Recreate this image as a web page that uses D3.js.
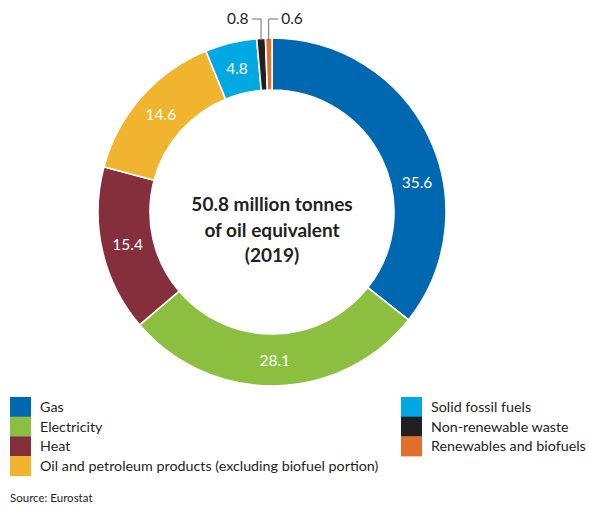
<!DOCTYPE html>
<html>
<head>
<meta charset="utf-8">
<script src="https://cdn.jsdelivr.net/npm/d3@7"></script>
<style>
  html, body { margin: 0; padding: 0; background: #fff; }
  svg { display: block; font-family: Lato, "Open Sans", sans-serif; }
</style>
</head>
<body>
<svg id="chart" width="589" height="509"></svg>
<script>
// Final energy consumption by product, share of total (%)
const categories = [
  "Gas",
  "Electricity",
  "Heat",
  "Oil and petroleum products (excluding biofuel portion)",
  "Solid fossil fuels",
  "Non-renewable waste",
  "Renewables and biofuels"
];
const shares = [35.6, 28.1, 15.4, 14.6, 4.8, 0.8, 0.6];
const colors = ["#0068b0", "#8cbf3f", "#852f3d", "#f0b42e", "#00a9e2", "#231f20", "#e3702a"];
const centreLines = ["50.8 million tonnes", "of oil equivalent", "(2019)"];
const sourceNote = "Source: Eurostat";

const svg = d3.select("#chart");
const cx = 272, cy = 212, rOuter = 174, rInner = 122;
const textColor = "#231f20";

const data = categories.map((c, i) => ({ name: c, value: shares[i], color: colors[i] }));

const pie = d3.pie().value(d => d.value).sort(null);
const arcs = pie(data);
const arc = d3.arc().innerRadius(rInner).outerRadius(rOuter);

const g = svg.append("g").attr("transform", `translate(${cx},${cy})`);

g.selectAll("path.slice")
  .data(arcs)
  .join("path")
  .attr("class", "slice")
  .attr("d", arc)
  .attr("fill", d => d.data.color)
  .attr("stroke", "#fff")
  .attr("stroke-width", 1.6);

// In-ring value labels for the larger slices; the first label sits further round the ring
const labelTurn = [0.25, 0, 0, 0, 0, 0, 0];
g.selectAll("text.val")
  .data(arcs.filter(d => d.data.value >= 2))
  .join("text")
  .attr("class", "val")
  .attr("transform", d => {
    const i = data.indexOf(d.data);
    const mid = (d.startAngle + d.endAngle) / 2 + labelTurn[i];
    const r = (rInner + rOuter) / 2;
    return `translate(${r * Math.sin(mid)},${-r * Math.cos(mid)})`;
  })
  .attr("text-anchor", "middle")
  .attr("dy", "0.36em")
  .attr("fill", "#fff")
  .attr("font-size", 15.5)
  .text(d => d3.format(".1f")(d.data.value));

// Leader lines for the thin slices near the top
const small = arcs.filter(d => d.data.value < 2);
const leaderY = 19 - cy;
small.forEach((d, k) => {
  const mid = (d.startAngle + d.endAngle) / 2;
  const x0 = rOuter * Math.sin(mid);
  const y0 = -rOuter * Math.cos(mid) + 2;
  const dir = k === 0 ? -1 : 1;
  const x1 = x0 + dir * 9.5;
  g.append("path")
    .attr("d", `M${x0},${y0}V${leaderY}H${x1}`)
    .attr("fill", "none")
    .attr("stroke", "#6d6e71")
    .attr("stroke-width", 1);
  g.append("text")
    .attr("x", x1 + dir * 3)
    .attr("y", leaderY)
    .attr("dy", "0.33em")
    .attr("text-anchor", dir < 0 ? "end" : "start")
    .attr("fill", textColor)
    .attr("font-size", 15.5)
    .text(d3.format(".1f")(d.data.value));
});

// Centre caption
g.append("text")
  .attr("text-anchor", "middle")
  .attr("fill", textColor)
  .attr("font-weight", "bold")
  .attr("font-size", 19)
  .selectAll("tspan")
  .data(centreLines)
  .join("tspan")
  .attr("x", 0)
  .attr("y", (d, i) => -1 + i * 25.5)
  .text(d => d);

// Legend: two columns of stacked swatches
const leftItems = data.slice(0, 4);
const rightItems = data.slice(4);
const rowH = 19.7;
function legendColumn(items, x, y, sw) {
  const lg = svg.append("g").attr("transform", `translate(${x},${y})`);
  const rows = lg.selectAll("g").data(items).join("g")
    .attr("transform", (d, i) => `translate(0,${i * rowH})`);
  rows.append("rect")
    .attr("width", sw).attr("height", rowH + 0.3)
    .attr("fill", d => d.color);
  rows.append("text")
    .attr("x", sw + 9)
    .attr("y", rowH / 2)
    .attr("dy", "0.35em")
    .attr("fill", textColor)
    .attr("font-size", 14.3)
    .text(d => d.name);
}
legendColumn(leftItems, 10, 397, 21);
legendColumn(rightItems, 401, 397, 21);

svg.append("text")
  .attr("x", 10)
  .attr("y", 502)
  .attr("fill", textColor)
  .attr("font-size", 11.5)
  .text(sourceNote);
</script>
</body>
</html>
